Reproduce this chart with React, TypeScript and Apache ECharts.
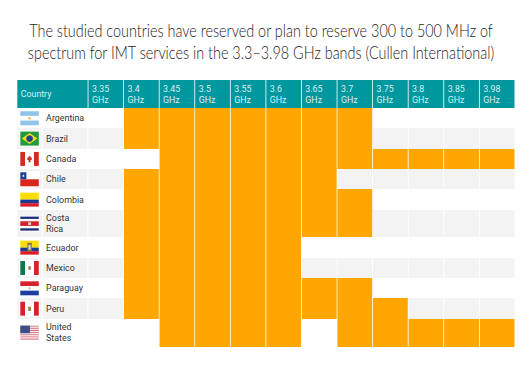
import React, { useEffect, useRef } from "react";
import * as echarts from "echarts";

const titleLines = [
  "The studied countries have reserved or plan to reserve 300 to 500 MHz of",
  "spectrum for IMT services in the 3.3–3.98 GHz bands (Cullen International)",
];
const bands = ["3.35", "3.4", "3.45", "3.5", "3.55", "3.6", "3.65", "3.7", "3.75", "3.8", "3.85", "3.98"];
const countries = ["Argentina", "Brazil", "Canada", "Chile", "Colombia", "Costa\nRica", "Ecuador", "Mexico", "Paraguay", "Peru", "United\nStates"];
const argentina = [0, 1, 1, 1, 1, 1, 1, 1, 0, 0, 0, 0];
const brazil = [0, 1, 1, 1, 1, 1, 1, 1, 0, 0, 0, 0];
const canada = [0, 0, 1, 1, 1, 1, 1, 1, 1, 1, 1, 1];
const chile = [0, 1, 1, 1, 1, 1, 1, 0, 0, 0, 0, 0];
const colombia = [0, 1, 1, 1, 1, 1, 1, 1, 0, 0, 0, 0];
const costaRica = [0, 1, 1, 1, 1, 1, 1, 1, 0, 0, 0, 0];
const ecuador = [0, 1, 1, 1, 1, 1, 0, 0, 0, 0, 0, 0];
const mexico = [0, 1, 1, 1, 1, 1, 0, 0, 0, 0, 0, 0];
const paraguay = [0, 1, 1, 1, 1, 1, 1, 1, 0, 0, 0, 0];
const peru = [0, 1, 1, 1, 1, 1, 1, 1, 1, 0, 0, 0];
const unitedStates = [0, 0, 1, 1, 1, 1, 0, 1, 1, 1, 1, 1];
const matrix = [argentina, brazil, canada, chile, colombia, costaRica, ecuador, mexico, paraguay, peru, unitedStates];

const TEAL = "#00979f";
const ORANGE = "#ffa600";
const GREY = "#f3f3f3";
const DOUBLE = 1.36;
const HEAD = 1.38;
const COUNTRY_COLS = 2;

const rowSize = countries.map((c) => (c.includes("\n") ? DOUBLE : 1));
const rowStart: number[] = [];
rowSize.reduce((acc, s, i) => ((rowStart[i] = acc), acc + s), 0);
const totalRows = rowSize.reduce((a, b) => a + b, 0);

type R = [number, number, number, number, string];
// flags: rects in a 0..1 box
const h3 = (a: string, b: string, c: string): R[] => [
  [0, 0, 1, 1 / 3, a],
  [0, 1 / 3, 1, 1 / 3, b],
  [0, 2 / 3, 1, 1 / 3, c],
];
const v3 = (a: string, b: string, c: string): R[] => [
  [0, 0, 0.26, 1, a],
  [0.26, 0, 0.48, 1, b],
  [0.74, 0, 0.26, 1, c],
];
const usStripes: R[] = Array.from({ length: 13 }, (_, i) => [0, i / 13, 1, 1 / 13, i % 2 ? "#f6e4e6" : "#d9707a"] as R);
const flags: R[][] = [
  [...h3("#8fc5ea", "#ffffff", "#8fc5ea"), [0.44, 0.42, 0.12, 0.16, "#f6b040"]],
  [[0, 0, 1, 1, "#1f9a3c"]],
  [...v3("#d52b1e", "#ffffff", "#d52b1e"), [0.45, 0.3, 0.1, 0.45, "#d52b1e"], [0.38, 0.4, 0.24, 0.18, "#d52b1e"]],
  [[0, 0, 1, 0.5, "#ffffff"], [0, 0.5, 1, 0.5, "#d8261c"], [0, 0, 0.33, 0.5, "#1c3f94"], [0.13, 0.18, 0.08, 0.14, "#ffffff"]],
  [[0, 0, 1, 0.5, "#fcdd09"], [0, 0.5, 1, 0.25, "#1a3a94"], [0, 0.75, 1, 0.25, "#d81e2c"]],
  [
    [0, 0, 1, 1 / 6, "#1c2f7c"],
    [0, 1 / 6, 1, 1 / 6, "#ffffff"],
    [0, 1 / 3, 1, 1 / 3, "#d8202c"],
    [0, 2 / 3, 1, 1 / 6, "#ffffff"],
    [0, 5 / 6, 1, 1 / 6, "#1c2f7c"],
    [0.42, 0.4, 0.16, 0.2, "#c9d4c4"],
  ],
  [
    [0, 0, 1, 0.5, "#fcdd09"],
    [0, 0.5, 1, 0.25, "#1a3a94"],
    [0, 0.75, 1, 0.25, "#d81e2c"],
    [0.38, 0.15, 0.24, 0.65, "#8a7038"],
    [0.44, 0.3, 0.12, 0.35, "#c9d4e4"],
  ],
  [...v3("#0b7a4b", "#ffffff", "#d8222c"), [0.44, 0.38, 0.12, 0.24, "#8c6a3c"]],
  [...h3("#d8202c", "#ffffff", "#1a3fa0"), [0.45, 0.43, 0.1, 0.14, "#9fb89f"]],
  [...v3("#d8202c", "#ffffff", "#d8202c"), [0.42, 0.36, 0.16, 0.3, "#9a8a4a"]],
  [...usStripes, [0, 0, 0.52, 7 / 13, "#3c4f86"]],
];
const brazilDiamond = ["#f7dc14", "#1f3f8c"];

function App() {
  const ref = useRef<HTMLDivElement>(null);
  useEffect(() => {
    const chart = echarts.init(ref.current!, undefined, { renderer: "svg" });

    const cellData: number[][] = [];
    matrix.forEach((row, r) => row.forEach((v, c) => cellData.push([c, r, v])));

    const headData = [-1, ...bands.map((_, i) => i)].map((i) => [i]);

    chart.setOption({
      animation: false,
      backgroundColor: "#ffffff",
      graphic: [
        {
          type: "text",
          x: 261,
          y: 41,
          scaleX: 0.848,
          style: {
            text: titleLines.join("\n"),
            font: "300 17px Lato",
            lineHeight: 22,
            fill: "#1c1c1c",
            align: "center",
            verticalAlign: "middle",
          },
        },
      ],
      grid: { left: 17.3, top: 80, width: 498, height: 266.5 },
      xAxis: { type: "value", min: 0, max: bands.length + COUNTRY_COLS, show: false },
      yAxis: { type: "value", min: -HEAD, max: totalRows, inverse: true, show: false },
      series: [
        {
          // row backgrounds, flags and country names
          type: "custom",
          silent: true,
          data: countries.map((_, i) => [i]),
          encode: { x: [], y: [] },
          renderItem: (_p: any, api: any) => {
            const r = api.value(0) as number;
            const [x0, yy0] = api.coord([0, rowStart[r]]);
            const [x1, yy1] = api.coord([COUNTRY_COLS, rowStart[r] + rowSize[r]]);
            const y0 = Math.round(yy0);
            const y1 = Math.round(yy1);
            const children: any[] = [];
            const mid = (yy0 + yy1) / 2;
            if (r % 2 === 1) {
              children.push({ type: "rect", shape: { x: x0, y: y0, width: 24.5, height: y1 - y0 }, style: { fill: GREY } });
              children.push({ type: "rect", shape: { x: x0 + 25.5, y: y0, width: x1 - x0 - 26.5, height: y1 - y0 }, style: { fill: GREY } });
            }
            const fw = 18.5;
            const fh = 14;
            const fx = x0 + 3;
            const fy = mid - fh / 2;
            children.push({ type: "rect", shape: { x: fx - 1, y: fy - 1, width: fw + 2, height: fh + 2 }, style: { fill: "#ffffff" } });
            flags[r].forEach((f) => {
              children.push({
                type: "rect",
                shape: { x: fx + f[0] * fw, y: fy + f[1] * fh, width: f[2] * fw, height: f[3] * fh },
                style: { fill: f[4] },
              });
            });
            if (r === 1) {
              children.push({
                type: "polygon",
                shape: { points: [[fx + 1.5, fy + fh / 2], [fx + fw / 2, fy + 1.5], [fx + fw - 1.5, fy + fh / 2], [fx + fw / 2, fy + fh - 1.5]] },
                style: { fill: brazilDiamond[0] },
              });
              children.push({ type: "circle", shape: { cx: fx + fw / 2, cy: fy + fh / 2, r: 3.4 }, style: { fill: brazilDiamond[1] } });
            }
            children.push({
              type: "text",
              style: {
                x: x0 + 28.8,
                y: mid,
                text: countries[r],
                fill: "#333333",
                font: "400 8.9px Roboto",
                lineHeight: 11,
                align: "left",
                verticalAlign: "middle",
              },
            });
            return { type: "group", children };
          },
        },
        {
          // spectrum cells
          type: "custom",
          silent: true,
          data: cellData,
          encode: { x: 0, y: 1 },
          renderItem: (_p: any, api: any) => {
            const c = api.value(0) as number;
            const r = api.value(1) as number;
            const v = api.value(2) as number;
            const [x0, yy0] = api.coord([c + COUNTRY_COLS, rowStart[r]]);
            const [x1, yy1] = api.coord([c + COUNTRY_COLS + 1, rowStart[r] + rowSize[r]]);
            const y0 = Math.round(yy0);
            const y1 = Math.round(yy1);
            if (v) {
              return { type: "rect", shape: { x: x0, y: y0, width: x1 - x0 - 0.8, height: y1 - y0 }, style: { fill: ORANGE } };
            }
            if (r % 2 === 1) {
              return { type: "rect", shape: { x: x0, y: y0, width: x1 - x0 - 0.8, height: y1 - y0 }, style: { fill: GREY } };
            }
            return { type: "group", children: [] };
          },
        },
        {
          // header row
          type: "custom",
          silent: true,
          data: headData,
          encode: { x: [], y: [] },
          renderItem: (_p: any, api: any) => {
            const i = api.value(0) as number;
            const first = i < 0;
            const [x0, yy0] = api.coord([first ? 0 : i + COUNTRY_COLS, -HEAD]);
            const [x1, yy1] = api.coord([first ? COUNTRY_COLS : i + COUNTRY_COLS + 1, 0]);
            const y0 = Math.round(yy0);
            const y1 = Math.round(yy1);
            return {
              type: "group",
              children: [
                { type: "rect", shape: { x: x0, y: y0, width: x1 - x0 - 0.8, height: y1 - y0 }, style: { fill: TEAL } },
                {
                  type: "text",
                  style: {
                    x: x0 + 3.5,
                    y: (y0 + y1) / 2,
                    text: first ? "Country" : `${bands[i]}\nGHz`,
                    fill: "#d9f0f1",
                    font: "400 8.8px Roboto",
                    lineHeight: 11,
                    align: "left",
                    verticalAlign: "middle",
                  },
                },
              ],
            };
          },
        },
      ],
    });
    return () => chart.dispose();
  }, []);
  return <div ref={ref} style={{ position: "fixed", left: 0, top: 0, width: 532, height: 375 }} />;
}

export default App;
